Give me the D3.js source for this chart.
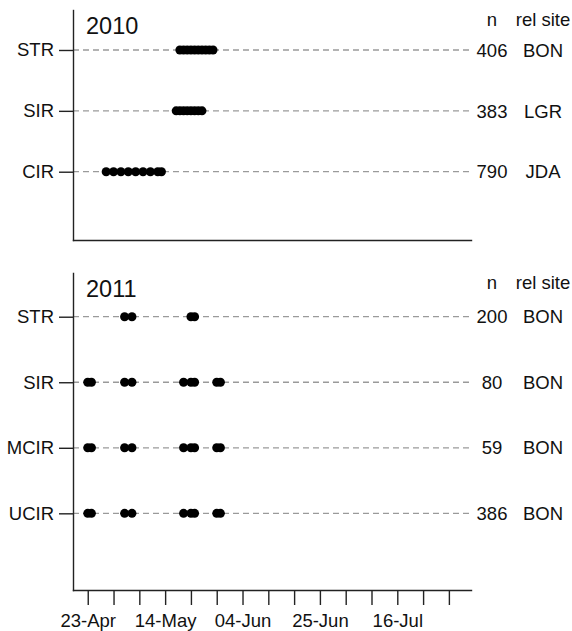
<!DOCTYPE html>
<html>
<head>
<meta charset="utf-8">
<script src="https://cdn.jsdelivr.net/npm/d3@7"></script>
<style>
  body { margin: 0; background: #fff; }
  svg { font-family: "Liberation Sans", Arial, sans-serif; }
  .axis path, .axis line { stroke: #222; stroke-width: 1.4; }
  .axis text { font-size: 18.5px; fill: #111; }
</style>
</head>
<body>
<div id="chart"></div>
<script>
// 2010 panel
const groups2010 = ["STR", "SIR", "CIR"];
const n2010 = [406, 383, 790];
const site2010 = ["BON", "LGR", "JDA"];
const releases2010 = [
  ["05-18","05-19","05-20","05-21","05-22","05-23","05-24","05-25","05-26","05-27"],
  ["05-17","05-18","05-19","05-20","05-21","05-22","05-23","05-24"],
  ["04-28","04-30","05-02","05-04","05-06","05-08","05-10","05-12","05-13"]
];

// 2011 panel
const groups2011 = ["STR", "SIR", "MCIR", "UCIR"];
const n2011 = [200, 80, 59, 386];
const site2011 = ["BON", "BON", "BON", "BON"];
const releases2011 = [
  ["05-03","05-05","05-21","05-22"],
  ["04-23","04-24","05-03","05-05","05-19","05-21","05-22","05-28","05-29"],
  ["04-23","04-24","05-03","05-05","05-19","05-21","05-22","05-28","05-29"],
  ["04-23","04-24","05-03","05-05","05-19","05-21","05-22","05-28","05-29"]
];

// x axis: weekly ticks, label every third one
const xTickLabels = ["23-Apr", "14-May", "04-Jun", "25-Jun", "16-Jul"];

const width = 572, height = 631;
const svg = d3.select('#chart').append('svg')
  .attr('width', width)
  .attr('height', height);

const left = 73, right = 471;
const nX = 492, siteX = 543;

function panel(cfg){
  const year = cfg.year;
  const parse = s => d3.utcParse('%Y-%m-%d')(`${year}-${s}`);

  const x = d3.scaleUtc()
    .domain([parse('04-19'), parse('08-05')])
    .range([left, right]);
  const y = d3.scaleLinear()
    .domain(cfg.yDomain)
    .range([cfg.top, cfg.bottom]);

  const g = svg.append('g').attr('class', 'panel');

  //dashed guide per group
  g.selectAll('.guide')
    .data(cfg.groups)
    .enter().append('line')
    .attr('class', 'guide')
    .attr('x1', left).attr('x2', right)
    .attr('y1', (d, i) => y(i)).attr('y2', (d, i) => y(i))
    .style('stroke', '#9a9a9a')
    .style('stroke-width', 1.3)
    .style('stroke-dasharray', '6,4');

  //release dots
  const pts = [];
  cfg.releases.forEach((arr, i) => arr.forEach(s => pts.push({i: i, date: parse(s)})));
  g.selectAll('.dot')
    .data(pts)
    .enter().append('circle')
    .attr('class', 'dot')
    .attr('cx', d => x(d.date))
    .attr('cy', d => y(d.i))
    .attr('r', 4.5)
    .style('fill', '#000');

  //axes
  const axisY = d3.axisLeft(y)
    .tickValues(d3.range(cfg.groups.length))
    .tickFormat(i => cfg.groups[i])
    .tickSize(14)
    .tickSizeOuter(0)
    .tickPadding(5);
  g.append('g')
    .attr('class', 'axis axis-y')
    .attr('transform', `translate(${left},0)`)
    .call(axisY);

  const start = parse('04-23');
  const weekly = d3.range(15).map(k => d3.utcDay.offset(start, 7 * k));
  const fmt = d3.utcFormat('%d-%b');
  const axisX = d3.axisBottom(x)
    .tickValues(cfg.showTicks ? weekly : [])
    .tickFormat(d => xTickLabels.includes(fmt(d)) ? fmt(d) : '')
    .tickSize(15)
    .tickSizeOuter(0)
    .tickPadding(9);
  g.append('g')
    .attr('class', 'axis axis-x')
    .attr('transform', `translate(0,${cfg.bottom})`)
    .call(axisX);
  g.selectAll('.axis .domain').style('stroke-linecap', 'square');

  //year label
  g.append('text')
    .attr('x', 86)
    .attr('y', cfg.top + 24)
    .style('font-size', '23.5px')
    .style('fill', '#111')
    .text(year);

  //right side columns
  g.append('text')
    .attr('x', nX).attr('y', cfg.top + 16)
    .attr('text-anchor', 'middle')
    .style('font-size', '18.5px').style('fill', '#111')
    .text('n');
  g.append('text')
    .attr('x', siteX).attr('y', cfg.top + 16)
    .attr('text-anchor', 'middle')
    .style('font-size', '18.5px').style('fill', '#111')
    .text('rel site');

  g.selectAll('.ncount')
    .data(cfg.n)
    .enter().append('text')
    .attr('class', 'ncount')
    .attr('x', nX)
    .attr('y', (d, i) => y(i))
    .attr('dy', '0.36em')
    .attr('text-anchor', 'middle')
    .style('font-size', '18.5px').style('fill', '#111')
    .text(d => d);
  g.selectAll('.site')
    .data(cfg.sites)
    .enter().append('text')
    .attr('class', 'site')
    .attr('x', siteX)
    .attr('y', (d, i) => y(i))
    .attr('dy', '0.36em')
    .attr('text-anchor', 'middle')
    .style('font-size', '18.5px').style('fill', '#111')
    .text(d => d);
}

panel({
  year: 2010, groups: groups2010, n: n2010, sites: site2010, releases: releases2010,
  top: 10, bottom: 240, yDomain: [-0.657, 3.122], showTicks: false
});
panel({
  year: 2011, groups: groups2011, n: n2011, sites: site2011, releases: releases2011,
  top: 273, bottom: 590, yDomain: [-0.667, 4.17], showTicks: true
});
</script>
</body>
</html>
